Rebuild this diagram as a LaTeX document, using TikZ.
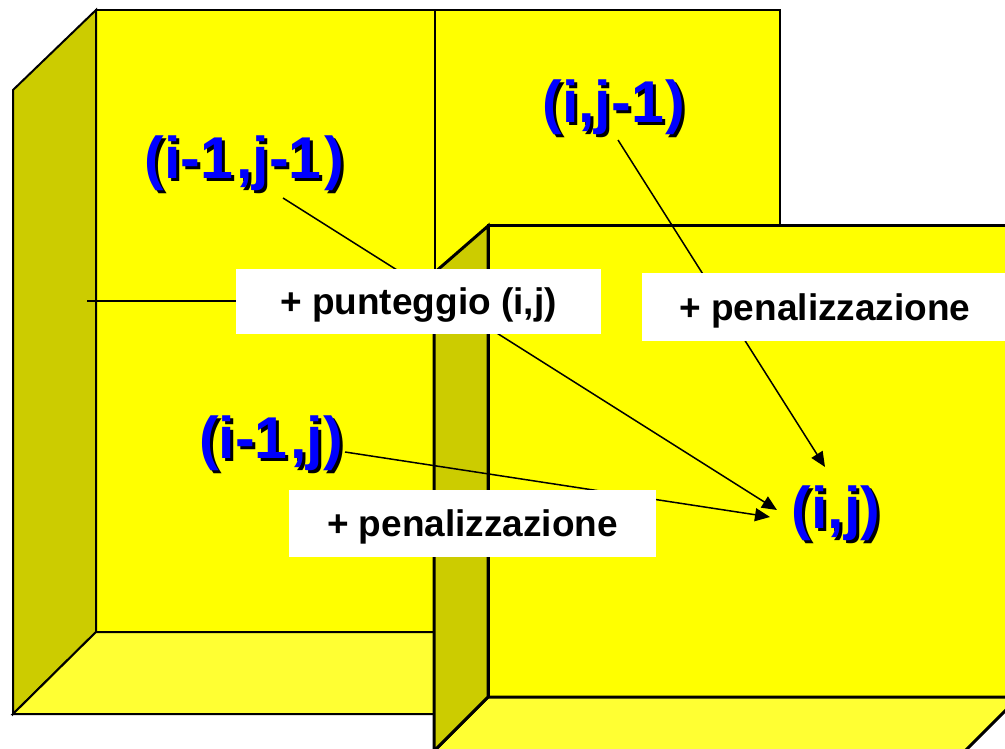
\documentclass[tikz,border=0pt]{standalone}
\usepackage{fontspec}
\setmainfont{Liberation Sans}
\usetikzlibrary{arrows.meta}
\definecolor{facey}{HTML}{FFFF00}
\definecolor{sidey}{HTML}{CCCC00}
\definecolor{floory}{HTML}{FFFF33}
\definecolor{lblue}{HTML}{0000FF}
\newcommand{\shadowlbl}[1]{\makebox[0pt][l]{\hspace{3pt}\raisebox{-3pt}{\color{black}#1}}{\color{lblue}#1}}
\begin{document}
\begin{tikzpicture}[x=1pt,y=-1pt,
  thinedge/.style={draw=black,line width=2pt,line join=miter},
  thickedge/.style={draw=black,line width=3pt,line join=miter},
  gridline/.style={draw=black,line width=1.5pt},
  arr/.style={draw=black,line width=1.5pt,-{Triangle[length=15pt,width=13pt]}},
  blbl/.style={inner sep=0pt,font=\fontsize{59}{70}\selectfont\bfseries},
  wlbl/.style={fill=white,inner sep=0pt,text height=26.6pt,text depth=0pt,align=center,
    font=\fontsize{37}{44}\selectfont\bfseries}]
\useasboundingbox (0,0) rectangle (1005,749);
\clip (0,0) rectangle (1005,749);
% back box
\path[fill=facey,thinedge] (96,10) rectangle (780,632);
\path[fill=sidey,thinedge] (13,90) -- (96,10) -- (96,632) -- (13,714) -- cycle;
\path[fill=floory,thinedge] (13,714) -- (96,632) -- (440,632) -- (440,714) -- cycle;
\path[gridline] (435,10) -- (435,632);
\path[gridline] (87,301) -- (435,301);
% front box
\path[fill=facey,thickedge] (488,226) rectangle (1040,697);
\path[fill=floory,thickedge] (488,697) -- (1019,697) -- (960,756) -- (429,756) -- cycle;
\path[fill=sidey,thickedge] (434,273) -- (488,226) -- (488,697) -- (434,751) -- cycle;
% labels
\node[blbl] (a) at (244.5,164.5) {\shadowlbl{(i-1\kern3pt,j-1\kern3pt)}};
\node[blbl] (b) at (614,108.5) {\shadowlbl{(i,j-1\kern2pt)}};
\node[blbl] (c) at (271,445) {\shadowlbl{(i-1\kern3pt,j)}};
\node[blbl] (d) at (836,514.5) {\shadowlbl{(i,j)}};
\coordinate (a1) at (283,198);
\coordinate (b1) at (618,140);
\coordinate (c1) at (345,452);
\coordinate (d1) at (777,510);
\coordinate (d2) at (825,467);
\coordinate (d3) at (770,517);
\draw[arr] (a1) -- (d1);
\draw[arr] (b1) -- (d2);
\draw[arr] (c1) -- (d3);
\node[wlbl,minimum width=365pt,minimum height=65pt] (p1) at (418.5,301.5) {+ punteggio (i,j)};
\node[wlbl,minimum width=366pt,minimum height=68pt] (p2) at (825,307) {+ penalizzazione};
\node[wlbl,minimum width=367pt,minimum height=67pt] (p3) at (472.5,523.5) {+ penalizzazione};
\end{tikzpicture}
\end{document}
